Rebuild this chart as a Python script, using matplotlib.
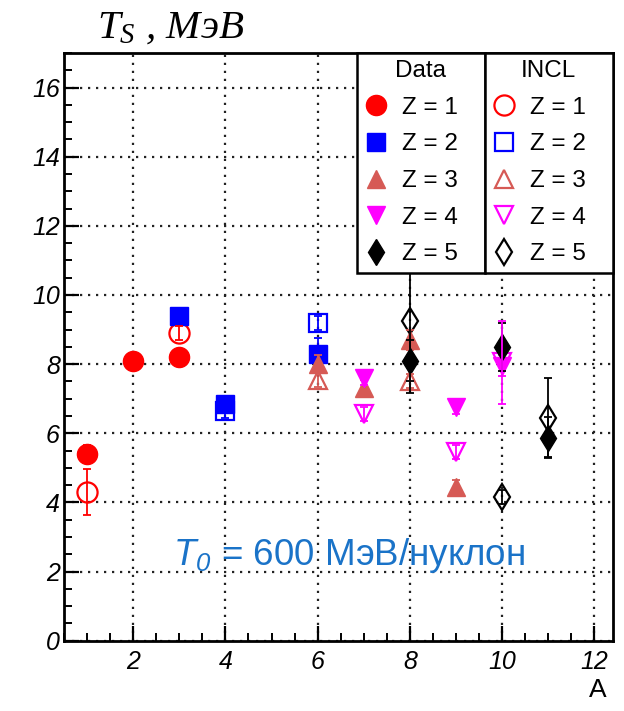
import matplotlib
matplotlib.use("Agg")
import matplotlib.pyplot as plt
from matplotlib.ticker import MultipleLocator

plt.rcParams["mathtext.fontset"] = "custom"
plt.rcParams["mathtext.it"] = "Liberation Serif:italic"
plt.rcParams["mathtext.rm"] = "Liberation Serif"
plt.rcParams["mathtext.sf"] = "Liberation Sans:italic"

# ---- measured slope temperatures T_S (MeV) vs fragment mass number A ----
# experimental data
data_z1_a = [1, 2, 3]
data_z1_t = [5.4, 8.1, 8.2]
data_z1_e = [0.25, 0.15, 0.15]

data_z2_a = [3, 4, 6]
data_z2_t = [9.4, 6.85, 8.3]
data_z2_e = [0.2, 0.2, 0.45]

data_z3_a = [6, 7, 8, 9]
data_z3_t = [8.0, 7.3, 8.7, 4.45]
data_z3_e = [0.25, 0.25, 0.3, 0.2]

data_z4_a = [7, 9, 10]
data_z4_t = [7.6, 6.75, 7.95]
data_z4_e = [0.2, 0.2, 0.3]

data_z5_a = [8, 10, 11]
data_z5_t = [8.1, 8.5, 5.87]
data_z5_e = [0.6, 0.7, 0.6]

# INCL model
incl_z1_a = [1, 3]
incl_z1_t = [4.3, 8.9]
incl_z1_e = [0.67, 0.2]

incl_z2_a = [4, 6]
incl_z2_t = [6.65, 9.2]
incl_z2_e = [0.2, 0.2]

incl_z3_a = [6, 8]
incl_z3_t = [7.55, 7.5]
incl_z3_e = [0.2, 0.2]

incl_z4_a = [7, 9, 10]
incl_z4_t = [6.55, 5.45, 8.05]
incl_z4_e = [0.2, 0.2, 1.2]

incl_z5_a = [8, 10, 11]
incl_z5_t = [9.25, 4.15, 6.45]
incl_z5_e = [2.1, 0.2, 1.15]

z_labels = ["Z = 1", "Z = 2", "Z = 3", "Z = 4", "Z = 5"]
colors = ["#ff0000", "#0000ff", "#d65a55", "#ff00ff", "#000000"]
markers = ["o", "s", "^", "v", "d"]
msizes = [14.5, 12.5, 13, 13, 13]

data_sets = [(data_z1_a, data_z1_t, data_z1_e), (data_z2_a, data_z2_t, data_z2_e),
             (data_z3_a, data_z3_t, data_z3_e), (data_z4_a, data_z4_t, data_z4_e),
             (data_z5_a, data_z5_t, data_z5_e)]
incl_sets = [(incl_z1_a, incl_z1_t, incl_z1_e), (incl_z2_a, incl_z2_t, incl_z2_e),
             (incl_z3_a, incl_z3_t, incl_z3_e), (incl_z4_a, incl_z4_t, incl_z4_e),
             (incl_z5_a, incl_z5_t, incl_z5_e)]

fig = plt.figure(figsize=(6.24, 7.11), dpi=100)
ax = fig.add_axes([0.1026, 0.0989, 0.8794, 0.8266])

ax.set_xlim(0.5, 12.4)
ax.set_ylim(0, 17)

# model points (hollow) first, data points (filled) on top
incl_handles = []
for (a, t, e), c, m, s in zip(incl_sets, colors, markers, msizes):
    ax.errorbar(a, t, yerr=e, fmt="none", ecolor=c, elinewidth=1.3,
                capsize=3, capthick=1.3, zorder=5)
    h, = ax.plot(a, t, linestyle="none", marker=m, markersize=s,
                 markerfacecolor="none", markeredgecolor=c,
                 markeredgewidth=1.6, zorder=3)
    incl_handles.append(h)

data_handles = []
for (a, t, e), c, m, s in zip(data_sets, colors, markers, msizes):
    ax.errorbar(a, t, yerr=e, fmt="none", ecolor=c, elinewidth=1.3,
                capsize=3, capthick=1.3, zorder=4)
    h, = ax.plot(a, t, linestyle="none", marker=m, markersize=s,
                 markerfacecolor=c, markeredgecolor=c,
                 markeredgewidth=1.0, zorder=4)
    data_handles.append(h)

# axes styling
ax.xaxis.set_major_locator(MultipleLocator(2))
ax.xaxis.set_minor_locator(MultipleLocator(0.5))
ax.yaxis.set_major_locator(MultipleLocator(2))
ax.yaxis.set_minor_locator(MultipleLocator(0.5))
ax.grid(True, which="major", color="#222222", linestyle=(0, (1.0, 2.6)),
        linewidth=1.6)
ax.set_axisbelow(True)
for sp in ax.spines.values():
    sp.set_linewidth(2.0)
ax.tick_params(which="major", direction="in", length=11, width=1.6,
               labelsize=18, top=False, right=False)
ax.tick_params(which="minor", direction="in", length=5.5, width=1.4,
               top=False, right=False)
ax.tick_params(axis="x", which="major", pad=7)
ax.tick_params(axis="y", which="major", pad=3)
for lab in ax.get_xticklabels() + ax.get_yticklabels():
    lab.set_fontfamily("Liberation Sans")
    lab.set_fontstyle("italic")

# two-column legend: Data | INCL
leg_kw = dict(loc="upper left", mode="expand", borderaxespad=0.0,
              prop={"family": "Liberation Sans", "size": 17.5},
              title_fontproperties={"family": "Liberation Sans", "size": 17.5},
              fancybox=False, framealpha=1.0, edgecolor="black",
              handlelength=1.0, handletextpad=0.55, labelspacing=0.6,
              borderpad=0.3, numpoints=1)
leg1 = ax.legend(data_handles, z_labels, title="Data",
                 bbox_to_anchor=(0.534, 0.0, 0.233, 1.0), **leg_kw)
leg1.get_frame().set_linewidth(1.8)
ax.add_artist(leg1)
leg2 = ax.legend(incl_handles, z_labels, title="INCL",
                 bbox_to_anchor=(0.767, 0.0, 0.233, 1.0), **leg_kw)
leg2.get_frame().set_linewidth(1.8)
for lg in (leg1, leg2):
    lg.set_zorder(10)

# beam energy annotation
ax.text(6.68, 2.45, r"$\mathsf{T_0}$ = 600 МэВ/нуклон", color="#1a73c8",
        fontsize=26.5, fontfamily="Liberation Sans", ha="center", va="center",
        zorder=6)

# axis titles
fig.text(0.155, 0.947, r"$T_S$ , MэB", fontsize=29.5,
         fontfamily="Liberation Serif", fontstyle="italic", va="baseline",
         ha="left")
fig.text(0.958, 0.03, "A", fontsize=19, fontfamily="Liberation Sans",
         ha="center", va="center")

fig.savefig("out.png", dpi=100)
